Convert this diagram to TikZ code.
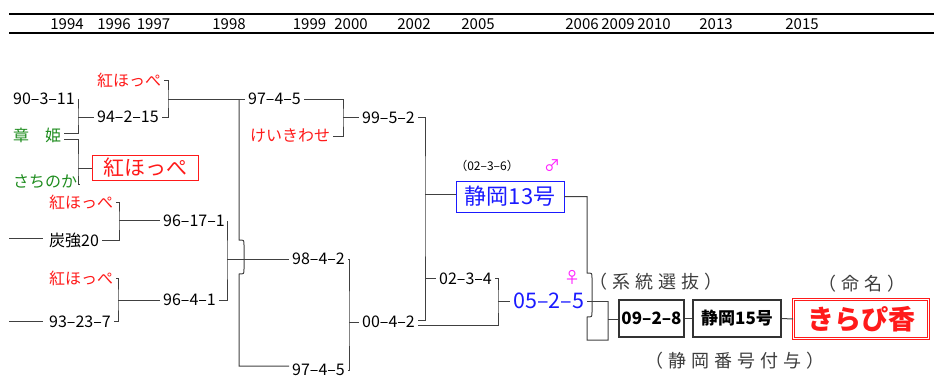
\documentclass[tikz,border=0pt]{standalone}
\usepackage{fontspec}
\setmainfont{Noto Sans CJK JP}
\usetikzlibrary{calc}
\definecolor{lnk}{HTML}{404040}
\definecolor{kred}{HTML}{FF1A1A}
\definecolor{kgreen}{HTML}{1E8C1E}
\definecolor{kblue}{HTML}{1A1AFF}
\definecolor{kmag}{HTML}{FF20FF}
\definecolor{notegray}{HTML}{3C3C3C}

\begin{document}
\begin{tikzpicture}[x=1pt,y=-1pt,
  conn/.style={draw=lnk, line width=1pt},
  lbl/.style={anchor=west, inner xsep=3pt, inner ysep=1pt, font=\fontsize{16}{16}\selectfont},
  yr/.style={inner sep=0pt, font=\fontsize{15}{15}\selectfont},
  boxred/.style={draw=kred, line width=0.8pt, fill=white, text=kred, inner sep=0pt,
    minimum width=106, minimum height=25, font=\fontsize{21}{21}\selectfont},
  boxblue/.style={draw=kblue, line width=0.8pt, fill=white, text=kblue, inner sep=0pt,
    minimum width=108, minimum height=31, font=\fontsize{22}{22}\selectfont},
  boxblk/.style={draw=black!80, line width=1.1pt, fill=white, inner sep=0pt,
    minimum height=37, font=\fontsize{17}{17}\selectfont\bfseries},
  boxkira/.style={draw=kred, double, double distance=1.6pt, line width=0.7pt, text=kred,
    inner sep=0pt, minimum width=135, minimum height=39, font=\fontsize{27}{27}\selectfont\bfseries},
  sex/.style={text=kmag, inner sep=0pt, font=\fontsize{16}{16}\selectfont},
  remark/.style={text=notegray, inner sep=0pt, font=\fontsize{18}{18}\selectfont\addfontfeature{LetterSpace=28}}
]
\useasboundingbox (0,0) rectangle (934,383);

% year scale
\draw[line width=1.3pt] (9,14) -- (934,14);
\draw[line width=1.3pt] (9,33) -- (934,33);
\foreach \yv/\xv in {1994/67,1996/114,1997/153.5,1998/229,1999/309.5,2000/351,2002/414,
  2005/478,2006/582,2009/618,2010/654,2013/716,2015/802}
  \node[yr] (y\yv) at (\xv,24.5) {\yv};

% strains
\node[lbl] (n9031) at (10,99) {90–3–11};
\node[lbl, text=kgreen] (akahime) at (10,135) {章　姫};
\node[lbl, text=kgreen] (sachinoka) at (10,182) {さちのか};
\node[lbl, text=kred] (kh1) at (94,80) {紅ほっぺ};
\node[lbl] (n94215) at (94,117) {94–2–15};
\node[boxred] (khbox) at (145,167.5) {紅ほっぺ};
\node[lbl] (n9745a) at (245,99) {97–4–5};
\node[lbl, text=kred] (keiki) at (247,136) {けいきわせ};
\node[lbl] (n9952) at (359,117.5) {99–5–2};
\node[lbl, text=kred] (kh2) at (46,202) {紅ほっぺ};
\node[lbl] (tan20) at (46,240) {炭強20};
\node[lbl] (n96171) at (160,221) {96–17–1};
\node[lbl, text=kred] (kh3) at (46,278) {紅ほっぺ};
\node[lbl] (n93237) at (46,321.5) {93–23–7};
\node[lbl] (n9641) at (160,300) {96–4–1};
\node[lbl] (n9842) at (289,259) {98–4–2};
\node[lbl] (n9745b) at (289,370) {97–4–5};
\node[lbl] (n0042) at (359,322) {00–4–2};
\node[lbl] (n0234) at (436,278.5) {02–3–4};
\node[lbl, text=kblue, font=\fontsize{21.5}{21.5}\selectfont] (n0525) at (510,301) {05–2–5};
\node[boxblue] (shz13) at (510,196.5) {静岡13号};
\node[inner sep=0pt, font=\fontsize{12}{12}\selectfont] (n0236) at (487,166) {（02–3–6）};
\node[sex] (male) at (552,166) {♂};
\node[sex] (female) at (572,277) {♀};
\node[boxblk, minimum width=65] (b0928) at (651.5,318.5) {09–2–8};
\node[boxblk, minimum width=88] (shz15) at (737,318.5) {静岡15号};
\node[boxkira] (kirapi) at (861,319) {きらぴ香};
\node[remark] (sel) at (656,282) {（系統選抜）};
\node[remark] (naming) at (862,284) {（命名）};
\node[remark] (numbering) at (735,361) {（静岡番号付与）};

% crossing brackets
\coordinate (s1) at (78,117);
\coordinate (akU) at ($(akahime.east)+(0,-2)$);
\coordinate (akD) at ($(akahime.east)+(0,4)$);
\coordinate (sachE) at ($(sachinoka.east)+(0,2)$);
\draw[conn] (n9031.east) -| (s1) |- (akU);
\draw[conn] (s1) -- (s1 -| n94215.west);

\coordinate (s2) at (78,168);
\draw[conn] (akD) -| (s2) |- (sachE);
\draw[conn] (s2) -- (s2 -| khbox.west);

\coordinate (s3) at (168,99);
\draw[conn] (kh1.east) -| (s3) |- (n94215.east);
\draw[conn] (s3) -- (s3 -| n9745a.west);

\coordinate (s4) at (239,366);
\draw[conn] (s3 -| s4) -- (239,240) .. controls (244,240) .. (244,245) -- (244,269)
  .. controls (244,274) .. (239,274) -- (s4) -- (s4 -| n9745b.west);

\coordinate (s5) at (227,259);
\draw[conn] (n96171.east) -| (s5) |- (n9641.east);
\draw[conn] (s5) -- (s5 -| n9842.west);

\coordinate (s6) at (119,220);
\draw[conn] (kh2.east) -| (s6) |- (tan20.east);
\draw[conn] (s6) -- (s6 -| n96171.west);
\coordinate (lead1) at (9,238);
\draw[conn] (lead1) -- ($(lead1 -| tan20.west)+(-3,0)$);

\coordinate (s7) at (118,300);
\draw[conn] (kh3.east) -| (s7) |- (n93237.east);
\draw[conn] (s7) -- (s7 -| n9641.west);
\coordinate (lead2) at (9,321.5);
\draw[conn] (lead2) -- ($(lead2 -| n93237.west)+(-3,0)$);

\coordinate (s8) at (343,117.5);
\draw[conn] (n9745a.east) -| (s8) |- (keiki.east);
\draw[conn] (s8) -- (s8 -| n9952.west);

\coordinate (s9) at (349,322);
\draw[conn] (n9842.east) -| (s9) |- (n9745b.east);
\draw[conn] (s9) -- (s9 -| n0042.west);

\coordinate (s10) at (425,194);
\draw[conn] (n9952.east) -| (s10) |- ($(n0042.east)+(0,-2)$);
\draw[conn] (s10) -- (s10 -| shz13.west);
\draw[conn] (s10 |- n0234.west) -- (n0234.west);

\coordinate (s11) at (498,301);
\draw[conn] (n0234.east) -| (s11) |- ($(n0042.east)+(0,3)$);
\draw[conn] (s11) -- (s11 -| n0525.west);

\coordinate (s12) at (608,319);
\draw[conn] (shz13.east) -| (587,273) .. controls (592,273) .. (592,278) -- (592,312)
  .. controls (592,317) .. (587,317) -- (587,340) -| (s12) -- (s12 |- n0525.east);
\draw[conn] (n0525.east) -- (s12 |- n0525.east);
\draw[conn] (s12) -- (s12 -| b0928.west);
\draw[conn] (b0928.east) -- (shz15.west);
\draw[conn] (shz15.east) -- (kirapi.west);
\end{tikzpicture}
\end{document}
